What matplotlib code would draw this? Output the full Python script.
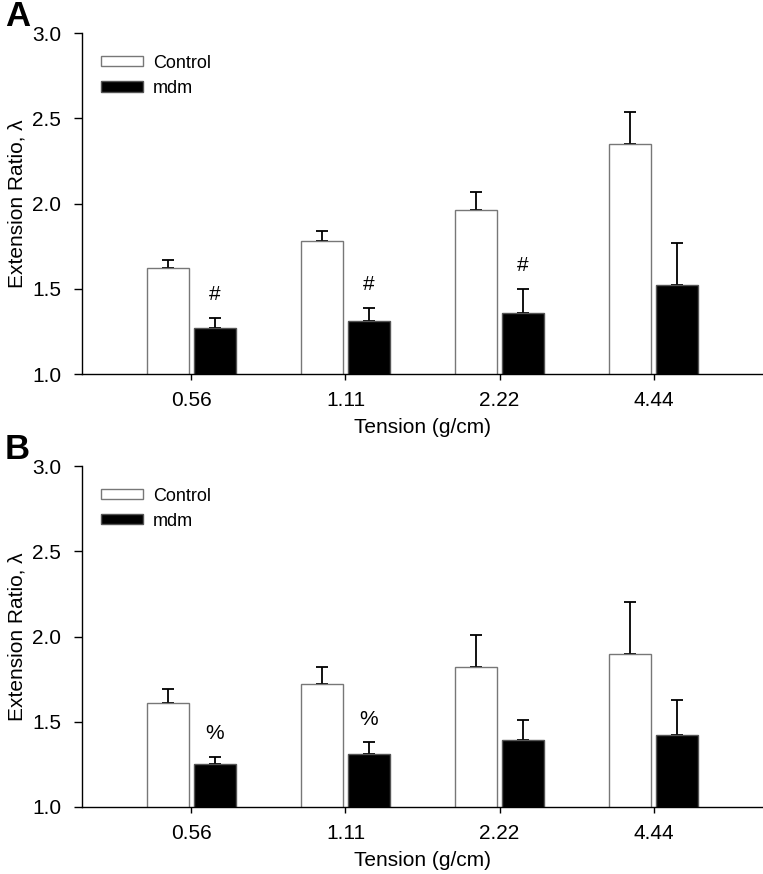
import matplotlib.pyplot as plt
import numpy as np

plt.rcParams['font.family'] = ['Liberation Sans', 'DejaVu Sans']

tensions = ['0.56', '1.11', '2.22', '4.44']

# panel A
ctrl_a = [1.62, 1.78, 1.96, 2.35]
ctrl_a_err = [0.05, 0.06, 0.11, 0.19]
mdm_a = [1.27, 1.31, 1.36, 1.52]
mdm_a_err = [0.06, 0.08, 0.14, 0.25]
marks_a = ['#', '#', '#', '']

# panel B
ctrl_b = [1.61, 1.72, 1.82, 1.90]
ctrl_b_err = [0.08, 0.10, 0.19, 0.30]
mdm_b = [1.25, 1.31, 1.39, 1.42]
mdm_b_err = [0.045, 0.07, 0.12, 0.21]
marks_b = ['%', '%', '', '']


def panel(ax, ctrl, ctrl_err, mdm, mdm_err, marks, letter):
    x = np.arange(len(tensions))
    w = 0.27
    off = 0.152
    ax.bar(x - off, ctrl, w, color='white', edgecolor='#777777',
           linewidth=1, label='Control', zorder=2)
    ax.bar(x + off, mdm, w, color='black', edgecolor='#555555',
           linewidth=1, label='mdm', zorder=2)
    ax.errorbar(x - off, ctrl, yerr=[np.zeros(len(x)), ctrl_err], fmt='none',
                ecolor='black', elinewidth=1.3, capsize=4, capthick=1.3, zorder=1)
    ax.errorbar(x + off, mdm, yerr=[np.zeros(len(x)), mdm_err], fmt='none',
                ecolor='black', elinewidth=1.3, capsize=4, capthick=1.3, zorder=1)
    for i, m in enumerate(marks):
        if m:
            ax.text(x[i] + off, mdm[i] + mdm_err[i] + 0.135, m, ha='center',
                    va='center', fontsize=15)

    ax.set_xlim(-0.71, 3.71)
    ax.set_ylim(1.0, 3.0)
    ax.set_yticks([1.0, 1.5, 2.0, 2.5, 3.0])
    ax.set_yticklabels(['1.0', '1.5', '2.0', '2.5', '3.0'])
    ax.set_xticks(x)
    ax.set_xticklabels(tensions)
    ax.spines['top'].set_visible(False)
    ax.spines['right'].set_visible(False)
    ax.spines['left'].set_linewidth(1)
    ax.spines['bottom'].set_linewidth(1)
    ax.tick_params(axis='y', direction='out', length=6, width=1, labelsize=15, pad=9)
    ax.tick_params(axis='x', direction='out', length=4, width=1, labelsize=15, pad=8)
    ax.set_xlabel('Tension (g/cm)', fontsize=15, labelpad=6)
    ax.set_ylabel('Extension Ratio, λ', fontsize=15, labelpad=4)
    ax.legend(loc='upper left', bbox_to_anchor=(0.028, 0.937), frameon=False,
              fontsize=13, handlelength=2.33, handleheight=0.5, borderpad=0,
              borderaxespad=0, labelspacing=0.45, handletextpad=0.55)
    ax.text(-0.095, 1.05, letter, transform=ax.transAxes, fontsize=25,
            fontweight='bold', ha='center', va='center')


fig = plt.figure(figsize=(7.63, 8.74), dpi=100)
ax1 = fig.add_axes([0.1075, 0.572, 0.8925, 0.390])
ax2 = fig.add_axes([0.1075, 0.0767, 0.8925, 0.390])
panel(ax1, ctrl_a, ctrl_a_err, mdm_a, mdm_a_err, marks_a, 'A')
panel(ax2, ctrl_b, ctrl_b_err, mdm_b, mdm_b_err, marks_b, 'B')

fig.savefig('out.png', dpi=100)
